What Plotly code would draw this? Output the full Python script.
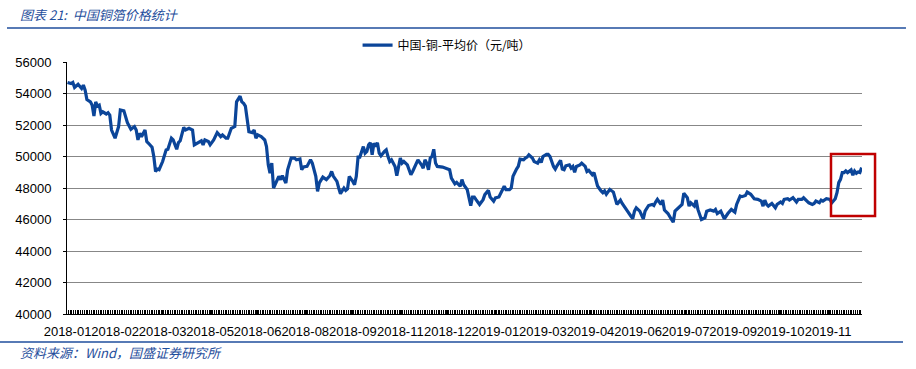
import plotly.graph_objects as go

# Trading-day index (0 = first trading day of 2018) and copper price (元/吨)
trading_day = [
    0, 2, 3, 4, 6, 7, 8, 9, 10, 11, 12, 13, 14, 15, 16, 17, 18, 19, 20, 22, 23, 24, 25, 27, 29, 30,
    32, 34, 36, 38, 39, 40, 41, 42, 44, 45, 46, 48, 49, 50, 51, 52, 54, 56, 57, 59, 60, 62, 63, 64,
    66, 67, 69, 71, 72, 74, 76, 77, 78, 80, 81, 83, 85, 87, 88, 90, 91, 93, 95, 96, 97, 98, 99, 100,
    101, 102, 103, 105, 106, 107, 108, 110, 112, 113, 114, 115, 116, 117, 119, 120, 121, 122, 124,
    125, 127, 129, 130, 132, 133, 134, 136, 138, 139, 141, 142, 143, 145, 147, 149,
    150, 151, 153, 154, 155, 157, 158, 159, 160, 162, 163, 164, 165, 166, 167, 168, 169, 170, 171,
    172, 173, 174, 175, 176, 177, 178, 180, 181, 182, 183, 184, 186, 187, 189, 190, 191, 193, 194,
    195, 196, 198, 199, 201, 202, 203, 204, 205, 206, 207, 208, 209, 210, 213, 215, 217, 218, 220,
    221, 223, 224, 225, 227, 228, 229, 230, 231, 232, 234, 236, 237, 239, 240, 242, 243, 245, 246,
    248, 249, 251, 252, 253, 255, 256, 257, 259, 260, 261, 262, 264, 265, 267, 268, 269, 270, 272,
    273, 274, 276, 277, 278, 280, 281, 282, 283, 285, 286, 287, 288, 289, 291, 292, 294, 295, 296, 298,
    299, 300, 301, 303, 304, 305, 306, 308, 310, 312, 314, 315, 317, 318, 320, 321, 322, 323, 325,
    326, 327, 328, 330, 332, 333, 334, 335, 337, 338, 339, 340, 341, 343, 344, 345, 346, 348, 349,
    350, 352, 353, 354, 356, 357, 358, 359, 360, 362, 363, 365, 367, 368, 369, 371, 372, 373, 375,
    376, 377, 379, 380, 382, 383, 385, 386, 388, 389, 390, 392, 394, 395, 396, 397, 398, 400, 401,
    402, 403, 405, 406, 407, 409, 410, 412, 413, 414, 415, 417, 418, 420, 421, 423, 424, 425, 427,
    428, 429, 431, 433, 434, 436, 437, 438, 439, 440, 441, 442, 443, 445, 446, 447, 448, 449, 450, 451,
]
copper_price = [
    54700, 54630, 54700, 54380, 54590, 54460, 54320, 54530, 54210, 53620, 53540, 53470, 53260, 52570,
    53470, 53200, 53260, 52740, 52840, 52700, 52780, 52630, 51680, 51160, 51900, 52950,
    52900, 52150, 51730, 51900, 51680, 51050, 51470, 51260, 51680, 50950, 50840, 50590, 50000, 49050,
    49200, 49160, 49680, 50420, 50460, 51160, 51050, 50460, 50880, 51000,
    51850, 51680, 51790, 51680, 50740, 50880, 51000, 50740, 51050, 50950, 50740, 51050, 51520, 51260,
    51370, 51160, 51160, 51790, 51900, 53470, 53680, 53830, 53470, 53370,
    53200, 52530, 51580, 51520, 51680, 51160, 51370, 51260, 51050, 50630, 49470, 48950, 49580, 48000,
    48530, 48740, 48530, 48780, 48320,
    49160, 49900, 49900, 49790, 49840, 49160, 49330, 49370, 49790, 49580, 48740, 47790, 48320, 48690,
    48530, 48780,
    49050, 48740, 48420, 48000, 47640, 48000, 47850, 47940, 48740, 48420, 48210, 48740, 49960, 49960,
    50320, 50630, 50210, 50320, 50740,
    50880, 50110, 50840, 50630, 50880, 50210, 50040, 50320, 50420, 50000, 49680, 49790, 49370, 48780,
    49900, 49580, 49680, 49470, 49160,
    48840, 49050, 49580, 49790, 49470, 49260, 49790, 49580, 49160, 49900, 50000, 50460, 49580, 49370,
    49330, 49260, 49160, 48630, 48270,
    48360, 48110, 48530, 48210, 47900, 47260, 46880, 47430, 47430, 47260, 46950, 47260, 47580, 47850,
    47430, 47160, 47370, 47430, 47640,
    48110, 47900, 47900, 48000, 48740, 49200, 49370, 49830, 49790, 49900, 49960, 50110, 49900, 49680,
    49580, 49790, 49620, 50000, 50130,
    50130, 50000, 49370, 49200, 49410, 49750, 49200, 49160, 49410, 49470, 49260, 49370, 48990, 49370,
    49470, 49580, 49370, 49050, 49120, 48840,
    48980, 48450, 48130, 47810, 47700, 47810, 47600, 47910, 47740, 46960, 47230, 47020, 46740, 46530,
    46210, 46060, 46530, 46740, 46530,
    46320, 46040, 46530, 46890, 46960, 46890, 47110, 47280, 46960, 47230, 46600, 46470, 46380, 46000,
    45830, 46530, 46640, 46850, 46960,
    47660, 47380, 46850, 47060, 46850, 47230, 46640, 46320, 46000, 46110, 46530, 46600, 46530, 46640,
    46380, 46530, 46320, 46040, 46380,
    46530, 46640, 46470, 46960, 47490, 47450, 47530, 47740, 47600, 47450, 47320, 47280, 47170, 46850,
    47230, 46960, 46850, 47020, 46890,
    46740, 46960, 47110, 47020, 47280, 47320, 47230, 47380, 47230, 47110, 47280, 47280, 47380, 47170,
    47060, 46960, 47020, 47170, 47060,
    47230, 47170, 47320, 47280, 47060, 47320, 47700, 48340, 48550, 48980, 48980, 49080, 48980, 49150,
    48810, 49080, 48940, 49020, 48980, 49300,
]

tick_positions = [0, 27, 54, 81, 108, 135, 162, 189, 216, 243, 270, 297, 324, 351, 378, 405, 432]
tick_labels = [
    "2018-01", "2018-02", "2018-03", "2018-05", "2018-06", "2018-08", "2018-09", "2018-11",
    "2018-12", "2019-01", "2019-03", "2019-04", "2019-06", "2019-07", "2019-09", "2019-10", "2019-11",
]
y_ticks = [40000, 42000, 44000, 46000, 48000, 50000, 52000, 54000, 56000]

series_name = "中国-铜-平均价（元/吨）"
title_text = "图表 21:  中国铜箔价格统计"
source_text = "资料来源：Wind，国盛证券研究所"

BLUE = "#0B4599"
HEAD_BLUE = "#1F4E9C"
CJK = "Noto Sans CJK SC"
LAT = "Liberation Sans"

fig = go.Figure()
fig.add_trace(go.Scatter(
    x=trading_day, y=copper_price, mode="lines", name=series_name,
    line=dict(color=BLUE, width=3.2), showlegend=True,
))

fig.update_layout(
    width=916, height=369,
    margin=dict(l=67, r=54, t=62, b=55, autoexpand=False),
    paper_bgcolor="white", plot_bgcolor="white",
    font=dict(family=LAT, size=13, color="black"),
    showlegend=True,
    legend=dict(
        orientation="h", x=0.3655, xanchor="left", y=1.067, yanchor="middle",
        font=dict(family=CJK, size=12, color="black"),
        bgcolor="rgba(0,0,0,0)", itemwidth=30,
    ),
    xaxis=dict(
        range=[-0.3, 451.2], showgrid=False, zeroline=False, automargin=False,
        showline=True, linecolor="black", linewidth=1,
        tickmode="array", tickvals=tick_positions, ticktext=tick_labels, tickangle=0,
        ticks="inside", ticklen=4, tickcolor="black", tickwidth=1,
        tickfont=dict(family=LAT, size=13, color="black"),
        ticklabelstandoff=5,
        minor=dict(tickmode="linear", tick0=-0.5, dtick=1, ticks="inside",
                   ticklen=4, tickcolor="black", tickwidth=1, showgrid=False),
        fixedrange=True,
    ),
    yaxis=dict(
        range=[40000, 56000], tickvals=y_ticks, ticktext=[str(v) for v in y_ticks],
        showgrid=True, gridcolor="#878787", gridwidth=1, zeroline=False, automargin=False,
        showline=True, linecolor="black", linewidth=1,
        ticks="outside", ticklen=3, tickcolor="black",
        tickfont=dict(family=LAT, size=13, color="black"),
        ticklabelstandoff=9, fixedrange=True,
    ),
    annotations=[
        dict(text="<i>" + title_text + "</i>", xref="paper", yref="paper",
             x=-0.0616, y=1.19, xanchor="left", yanchor="middle", showarrow=False,
             font=dict(family=CJK, size=13, color=HEAD_BLUE)),
        dict(text="<i>" + source_text + "</i>", xref="paper", yref="paper",
             x=-0.0616, y=-0.151, xanchor="left", yanchor="middle", showarrow=False,
             font=dict(family=CJK, size=13, color=HEAD_BLUE)),
    ],
    shapes=[
        dict(type="line", xref="paper", yref="paper", x0=-0.0755, x1=1.0553, y0=1.135, y1=1.135,
             line=dict(color=HEAD_BLUE, width=1.5)),
        dict(type="line", xref="paper", yref="paper", x0=-0.0843, x1=1.0516, y0=-0.111, y1=-0.111,
             line=dict(color=HEAD_BLUE, width=1.5)),
        dict(type="rect", xref="paper", yref="paper", x0=0.961, x1=1.0164, y0=0.389, y1=0.635,
             line=dict(color="#C00000", width=2.5), fillcolor="rgba(0,0,0,0)"),
    ],
)

fig.write_html("out.html", config={"displayModeBar": False},
               post_script="document.body.style.margin='0';")
